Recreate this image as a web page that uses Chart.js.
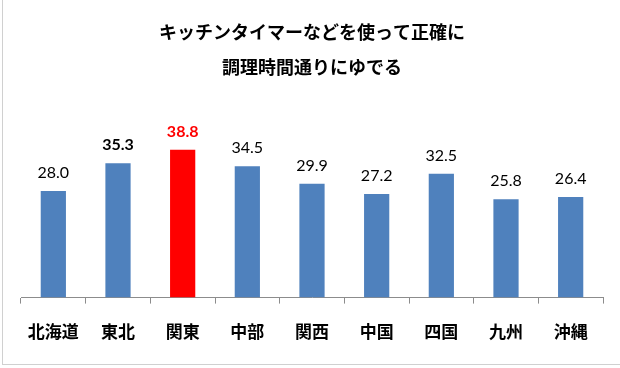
<!DOCTYPE html>
<html>
<head>
<meta charset="utf-8">
<script src="https://cdn.jsdelivr.net/npm/chart.js@4"></script>
<style>
  html, body { margin: 0; padding: 0; background: #fff; overflow: hidden; }
  #wrap { position: relative; width: 620px; height: 368px; }
  #frame { position: absolute; left: 2px; top: -2px; width: 700px; height: 367px; border: 1px solid #d0d0d0; box-sizing: border-box; }
  canvas { position: absolute; left: 0; top: 0; }
</style>
</head>
<body>
<div id="wrap">
  <div id="frame"></div>
  <canvas id="chart" width="620" height="368"></canvas>
</div>
<script>
// 地域
const regions = ['北海道', '東北', '関東', '中部', '関西', '中国', '四国', '九州', '沖縄'];
// 割合 (%)
const values = [28.0, 35.3, 38.8, 34.5, 29.9, 27.2, 32.5, 25.8, 26.4];
// 強調する地域
const boldRegions = ['東北', '関東'];
const redRegions = ['関東'];

const titleLines = ['キッチンタイマーなどを使って正確に', '調理時間通りにゆでる'];

const jpFont = '"Noto Sans CJK JP", "Noto Sans", sans-serif';

// 棒の上に値を書く
const valueLabels = {
    id: 'valueLabels',
    afterDatasetsDraw(chart) {
        const ctx = chart.ctx;
        const meta = chart.getDatasetMeta(0);
        ctx.save();
        ctx.textAlign = 'center';
        ctx.textBaseline = 'bottom';
        meta.data.forEach((bar, i) => {
            const name = regions[i];
            const bold = boldRegions.includes(name);
            ctx.font = (bold ? 'bold ' : '') + '16px Lato, "Noto Sans", sans-serif';
            ctx.fillStyle = redRegions.includes(name) ? '#ff0000' : '#000000';
            ctx.fillText(values[i].toFixed(1), bar.x, bar.y - 10);
        });
        ctx.restore();
    }
};

new Chart(document.getElementById('chart').getContext('2d'), {
    type: 'bar',
    data: {
        labels: regions,
        datasets: [{
            data: values,
            backgroundColor: regions.map(r => redRegions.includes(r) ? '#ff0000' : '#4f81bd'),
            borderWidth: 0,
            barPercentage: 0.39,
            categoryPercentage: 1.0
        }]
    },
    options: {
        responsive: false,
        animation: false,
        layout: {
            padding: { left: 21, right: 17, top: 0, bottom: 8 }
        },
        plugins: {
            legend: { display: false },
            tooltip: { enabled: false },
            title: {
                display: true,
                text: titleLines,
                color: '#000',
                font: { family: jpFont, size: 18, weight: 'bold', lineHeight: 1.95 },
                padding: { top: 15, bottom: 41 }
            }
        },
        scales: {
            x: {
                grid: {
                    drawOnChartArea: false,
                    drawTicks: true,
                    tickLength: 6,
                    color: '#8c8c8c'
                },
                border: { display: true, color: '#8c8c8c', width: 1 },
                ticks: {
                    color: '#000',
                    padding: 18,
                    font: { family: jpFont, size: 17, weight: 'bold' }
                }
            },
            y: {
                display: false,
                min: 0,
                max: 45
            }
        }
    },
    plugins: [valueLabels]
});
</script>
</body>
</html>
